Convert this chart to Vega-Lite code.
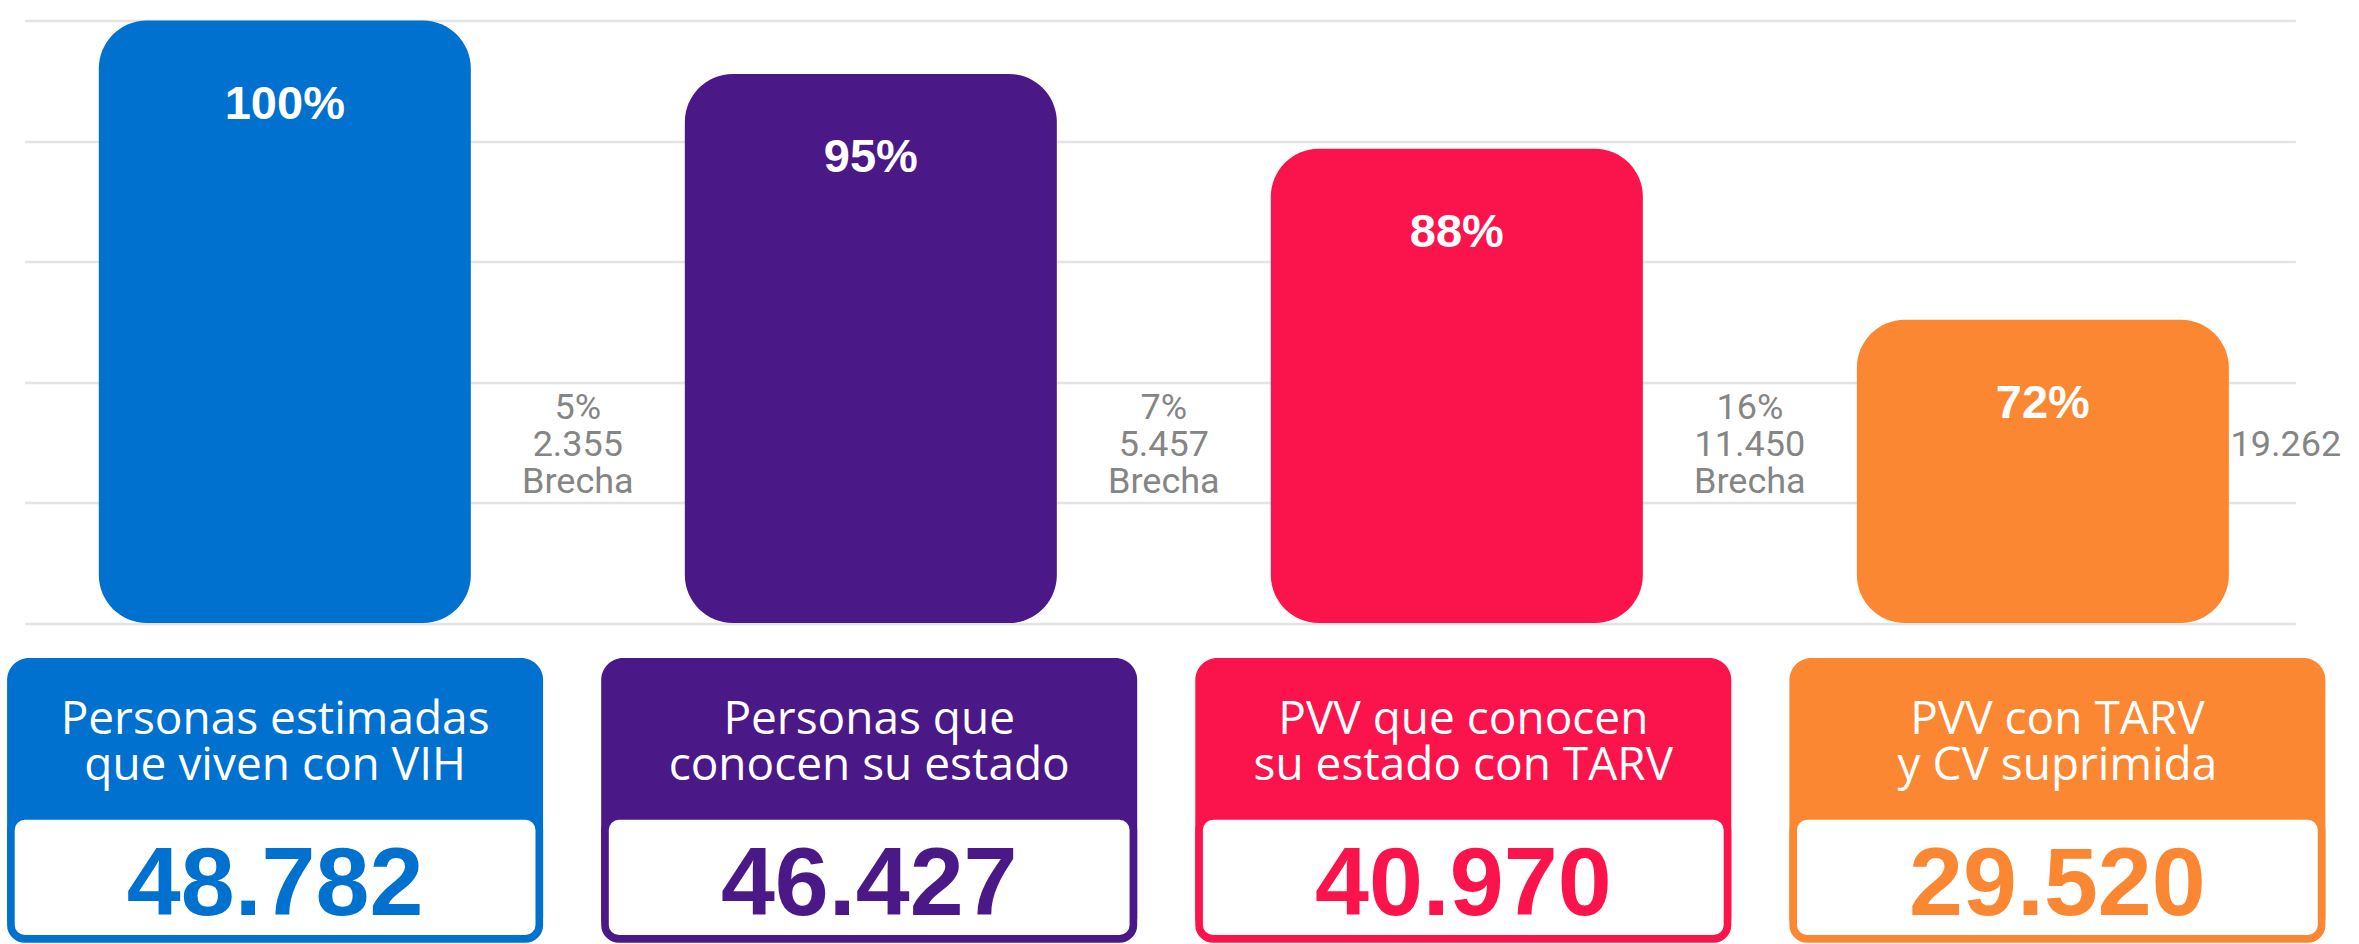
{
  "$schema": "https://vega.github.io/schema/vega-lite/v6.json",
  "padding": {"left": 6.7, "top": 20.5, "right": 0, "bottom": 0},
  "background": "white",
  "config": {
    "view": {"stroke": null},
    "locale": {"number": {"decimal": ",", "thousands": ".", "grouping": [3], "currency": ["", ""]}}
  },
  "datasets": {
    "cascada": [
      {"etapa": "Personas estimadas que viven con VIH", "titulo": "Personas estimadas\nque viven con VIH", "porcentaje": 1.0, "personas": 48782, "brecha_pct": 0.05, "brecha": 2355},
      {"etapa": "Personas que conocen su estado", "titulo": "Personas que\nconocen su estado", "porcentaje": 0.95, "personas": 46427, "brecha_pct": 0.07, "brecha": 5457},
      {"etapa": "PVV que conocen su estado con TARV", "titulo": "PVV que conocen\nsu estado con TARV", "porcentaje": 0.88, "personas": 40970, "brecha_pct": 0.16, "brecha": 11450},
      {"etapa": "PVV con TARV y CV suprimida", "titulo": "PVV con TARV\ny CV suprimida", "porcentaje": 0.72, "personas": 29520, "brecha_pct": null, "brecha": 19262}
    ]
  },
  "data": {"name": "cascada"},
  "spacing": 34.5,
  "columns": 1,
  "align": "none",
  "resolve": {"scale": {"x": "independent", "y": "independent"}},
  "concat": [
    {
      "width": 2270.7,
      "height": 602.6,
      "encoding": {
        "x": {
          "field": "etapa", "type": "nominal", "axis": null,
          "scale": {
            "domain": ["Personas estimadas que viven con VIH", "Personas que conocen su estado", "PVV que conocen su estado con TARV", "PVV con TARV y CV suprimida"],
            "paddingInner": 0.3652, "paddingOuter": 0.12, "align": 0.527
          }
        }
      },
      "layer": [
        {
          "mark": {"type": "bar", "cornerRadius": 48},
          "encoding": {
            "y": {
              "field": "porcentaje", "type": "quantitative",
              "scale": {"domain": [0.4363, 1], "nice": false, "zero": false},
              "axis": {
                "values": [0.4363, 0.54904, 0.66178, 0.77452, 0.88726, 1.0],
                "grid": true, "gridColor": "#e4e4e4", "gridWidth": 2.5,
                "domain": false, "labels": false, "ticks": false,
                "title": null
              }
            },
            "y2": {"datum": 0.4363},
            "color": {
              "field": "etapa", "type": "nominal", "legend": null,
              "scale": {
                "domain": ["Personas estimadas que viven con VIH", "Personas que conocen su estado", "PVV que conocen su estado con TARV", "PVV con TARV y CV suprimida"],
                "range": ["#0071CE", "#4B1888", "#FB134B", "#FB8733"]
              }
            }
          }
        },
        {
          "mark": {"type": "text", "font": "Liberation Sans", "fontWeight": "bold", "fontSize": 47, "fill": "white", "baseline": "alphabetic", "dy": 98},
          "encoding": {
            "y": {"field": "porcentaje", "type": "quantitative"},
            "text": {"field": "porcentaje", "type": "quantitative", "format": ".0%"}
          }
        },
        {
          "transform": [{"filter": "isValid(datum.brecha_pct)"}],
          "mark": {"type": "text", "font": "Roboto", "fontSize": 36, "fill": "#858585", "baseline": "alphabetic", "dx": 293, "dy": -37},
          "encoding": {
            "y": {"datum": 0.5923},
            "text": {"field": "brecha_pct", "type": "quantitative", "format": ".0%"}
          }
        },
        {
          "transform": [{"filter": "isValid(datum.brecha_pct)"}],
          "mark": {"type": "text", "font": "Roboto", "fontSize": 36, "fill": "#858585", "baseline": "alphabetic", "dx": 293, "dy": 0},
          "encoding": {
            "y": {"datum": 0.5923},
            "text": {"field": "brecha", "type": "quantitative", "format": ",d"}
          }
        },
        {
          "transform": [{"filter": "isValid(datum.brecha_pct)"}],
          "mark": {"type": "text", "font": "Roboto", "fontSize": 36, "fill": "#858585", "baseline": "alphabetic", "dx": 293, "dy": 37},
          "encoding": {
            "y": {"datum": 0.5923},
            "text": {"value": "Brecha"}
          }
        },
        {
          "transform": [{"filter": "!isValid(datum.brecha_pct)"}],
          "mark": {"type": "text", "font": "Roboto", "fontSize": 36, "fill": "#858585", "baseline": "alphabetic", "dx": 243, "dy": 0},
          "encoding": {
            "y": {"datum": 0.5923},
            "text": {"field": "brecha", "type": "quantitative", "format": ",d"}
          }
        }
      ]
    },
    {
      "spacing": 0,
      "bounds": "flush",
      "resolve": {"scale": {"x": "independent"}},
      "vconcat": [
        {
          "width": 2300.7,
          "height": 157.9,
          "encoding": {
            "x": {
              "field": "etapa", "type": "nominal", "axis": null,
              "scale": {
                "domain": ["Personas estimadas que viven con VIH", "Personas que conocen su estado", "PVV que conocen su estado con TARV", "PVV con TARV y CV suprimida"],
                "range": [-17.6, 2300.7],
                "paddingInner": 0.0978, "paddingOuter": 0
              }
            }
          },
          "layer": [
            {
              "mark": {"type": "bar", "cornerRadiusTopLeft": 22, "cornerRadiusTopRight": 22},
              "encoding": {
                "color": {
                  "field": "etapa", "type": "nominal", "legend": null,
                  "scale": {
                    "domain": ["Personas estimadas que viven con VIH", "Personas que conocen su estado", "PVV que conocen su estado con TARV", "PVV con TARV y CV suprimida"],
                    "range": ["#0071CE", "#4B1888", "#FB134B", "#FB8733"]
                  }
                }
              }
            },
            {
              "mark": {"type": "text", "font": "Open Sans", "fontSize": 46, "fill": "white", "lineBreak": "\n", "lineHeight": 46, "dy": -17},
              "encoding": {"text": {"field": "titulo", "type": "nominal"}}
            }
          ]
        },
        {
          "width": 2300.7,
          "height": 122.9,
          "encoding": {
            "x": {
              "field": "etapa", "type": "nominal", "axis": null,
              "scale": {
                "domain": ["Personas estimadas que viven con VIH", "Personas que conocen su estado", "PVV que conocen su estado con TARV", "PVV con TARV y CV suprimida"],
                "range": [-17.6, 2300.7],
                "paddingInner": 0.0978, "paddingOuter": 0
              }
            }
          },
          "layer": [
            {
              "mark": {"type": "bar", "cornerRadiusBottomLeft": 22, "cornerRadiusBottomRight": 22},
              "encoding": {
                "color": {
                  "field": "etapa", "type": "nominal", "legend": null,
                  "scale": {
                    "domain": ["Personas estimadas que viven con VIH", "Personas que conocen su estado", "PVV que conocen su estado con TARV", "PVV con TARV y CV suprimida"],
                    "range": ["#0071CE", "#4B1888", "#FB134B", "#FB8733"]
                  }
                }
              }
            },
            {
              "mark": {"type": "bar", "fill": "white", "strokeWidth": 7.6, "cornerRadius": 14, "width": {"band": 0.98582}},
              "encoding": {
                "stroke": {
                  "field": "etapa", "type": "nominal", "legend": null,
                  "scale": {
                    "domain": ["Personas estimadas que viven con VIH", "Personas que conocen su estado", "PVV que conocen su estado con TARV", "PVV con TARV y CV suprimida"],
                    "range": ["#0071CE", "#4B1888", "#FB134B", "#FB8733"]
                  }
                }
              }
            },
            {
              "mark": {"type": "text", "font": "Liberation Sans", "fontWeight": "bold", "fontSize": 97, "dy": 9},
              "encoding": {
                "text": {"field": "personas", "type": "quantitative", "format": ",d"},
                "color": {
                  "field": "etapa", "type": "nominal", "legend": null,
                  "scale": {
                    "domain": ["Personas estimadas que viven con VIH", "Personas que conocen su estado", "PVV que conocen su estado con TARV", "PVV con TARV y CV suprimida"],
                    "range": ["#0071CE", "#4B1888", "#FB134B", "#FB8733"]
                  }
                }
              }
            }
          ]
        }
      ]
    }
  ]
}
